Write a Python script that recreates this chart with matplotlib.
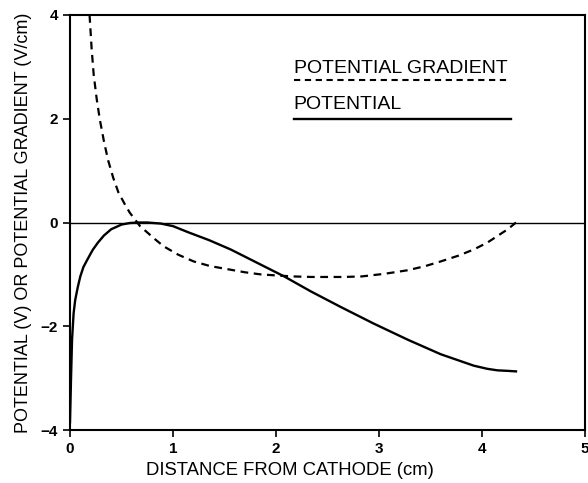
"""
Potential and potential gradient vs distance from cathode
"""

import matplotlib
matplotlib.use("Agg")
import matplotlib.pyplot as plt

# potential gradient (dashed)
grad_x = [0.19, 0.21, 0.23, 0.26, 0.29, 0.33, 0.37, 0.42, 0.47, 0.53, 0.58, 0.68, 0.83,
          0.91, 1.05, 1.20, 1.36, 1.53, 1.70, 1.85, 2.00, 2.17, 2.35, 2.50, 2.65, 2.83,
          3.05, 3.28, 3.45, 3.60, 3.77, 3.92, 4.05, 4.15, 4.25, 4.33]
grad_y = [4.00, 3.35, 2.85, 2.37, 1.98, 1.56, 1.20, 0.86, 0.58, 0.36, 0.19, -0.07, -0.33,
          -0.46, -0.62, -0.75, -0.84, -0.90, -0.96, -1.00, -1.02, -1.04, -1.05, -1.05, -1.05, -1.04,
          -0.99, -0.92, -0.84, -0.75, -0.64, -0.52, -0.39, -0.26, -0.13, 0.00]

# potential (solid)
pot_x = [0.00, 0.01, 0.02, 0.035, 0.05, 0.075, 0.10, 0.13, 0.17, 0.22, 0.27, 0.33,
         0.40, 0.50, 0.58, 0.66, 0.75, 0.88, 1.00, 1.15, 1.35, 1.56, 1.70, 1.85,
         2.08, 2.34, 2.63, 2.95, 3.28, 3.60, 3.92, 4.05, 4.15, 4.25, 4.33]
pot_y = [-3.85, -3.00, -2.25, -1.75, -1.50, -1.25, -1.04, -0.86, -0.71, -0.53, -0.39, -0.25,
         -0.13, -0.04, -0.01, 0.00, 0.00, -0.02, -0.07, -0.19, -0.34, -0.52, -0.66, -0.81,
         -1.04, -1.33, -1.63, -1.95, -2.26, -2.54, -2.76, -2.82, -2.85, -2.86, -2.87]

x_ticks = [0, 1, 2, 3, 4, 5]
y_ticks = [-4, -2, 0, 2, 4]

plt.rcParams['font.family'] = ['Liberation Sans', 'DejaVu Sans']

fig = plt.figure(figsize=(5.88, 4.83), dpi=100)
ax = fig.add_axes([70 / 588, 1 - 430 / 483, 515 / 588, 415 / 483])

ax.axhline(0, color='black', lw=1.0)
ax.plot(grad_x, grad_y, color='black', lw=1.6, ls=(0, (3.5, 2.5)))
ax.plot(pot_x, pot_y, color='black', lw=1.7)

ax.set_xlim(0, 5)
ax.set_ylim(-4, 4)
ax.set_xticks(x_ticks)
ax.set_yticks(y_ticks)
ax.tick_params(direction='out', length=5, width=1.2, labelsize=11)
for lab in ax.get_xticklabels() + ax.get_yticklabels():
    lab.set_fontweight('bold')
for s in ax.spines.values():
    s.set_linewidth(1.5)

ax.set_xlabel('DISTANCE FROM CATHODE (cm)', fontsize=13.3)
ax.xaxis.set_label_coords((290 - 70) / 515, -0.078)
ax.set_ylabel('POTENTIAL (V) OR POTENTIAL GRADIENT (V/cm)', fontsize=13, labelpad=6)

# hand-drawn style legend
ax.text(2.17, 2.89, 'POTENTIAL GRADIENT', fontsize=14, va='baseline', ha='left')
ax.plot([2.17, 4.25], [2.74, 2.74], color='black', lw=1.5, ls=(0, (3, 2.2)))
ax.text(2.17, 2.18, 'POTENTIAL', fontsize=14, va='baseline', ha='left')
ax.plot([2.17, 4.28], [2.00, 2.00], color='black', lw=1.7)

fig.savefig('out.png', dpi=100)
